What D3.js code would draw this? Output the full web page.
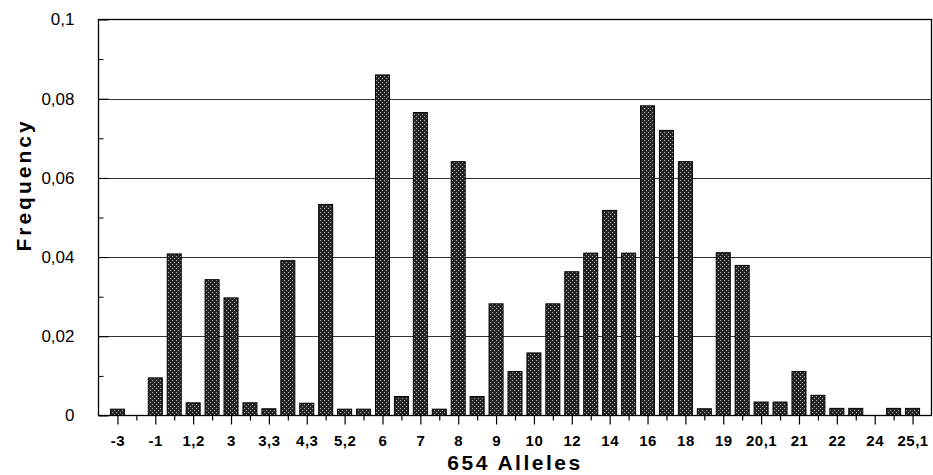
<!DOCTYPE html>
<html>
<head>
<meta charset="utf-8">
<script src="https://cdn.jsdelivr.net/npm/d3@7"></script>
<style>
  html, body { margin: 0; padding: 0; background: #fff; }
  svg { display: block; }
  text { font-family: "Liberation Sans", Arial, sans-serif; fill: #000; }
</style>
</head>
<body>
<svg id="chart" width="933" height="475"></svg>
<script>
// Allele categories (every one drawn; every second labelled)
const categories = ["-3","-2","-1","1","1,2","2","3","3,2","3,3","4","4,3","5","5,2","5,3","6","6,3","7","7,3","8","8,3","9","9,3","10","11","12","13","14","15","16","17","18","18,1","19","20","20,1","20,2","21","21,1","22","23","24","25","25,1"];
const tickLabels = ["-3","-1","1,2","3","3,3","4,3","5,2","6","7","8","9","10","12","14","16","18","19","20,1","21","22","24","25,1"];
const frequencies = [0.0016,0,0.0095,0.0408,0.0032,0.0343,0.0297,0.0032,0.0017,0.0391,0.0031,0.0533,0.0016,0.0016,0.0860,0.0048,0.0765,0.0016,0.0641,0.0048,0.0282,0.0111,0.0158,0.0282,0.0363,0.0410,0.0518,0.0410,0.0782,0.0720,0.0641,0.0017,0.0411,0.0379,0.0034,0.0034,0.0111,0.0051,0.0018,0.0018,0,0.0018,0.0018];
const yTicks = [0, 0.02, 0.04, 0.06, 0.08, 0.1];
const yTickLabels = ["0","0,02","0,04","0,06","0,08","0,1"];
const yMinorTicks = [0.01, 0.03, 0.05, 0.07, 0.09];

const svg = d3.select("#chart");
const L = 98.5, R = 931.5, T = 19.5, B = 415.5;

const defs = svg.append("defs");
const pat = defs.append("pattern").attr("id","stip").attr("patternUnits","userSpaceOnUse")
  .attr("width",4).attr("height",4);
pat.append("rect").attr("width",4).attr("height",4).attr("fill","#262626");
pat.append("rect").attr("x",0).attr("y",0).attr("width",1).attr("height",1).attr("fill","#b0b0b0");
pat.append("rect").attr("x",2).attr("y",2).attr("width",1).attr("height",1).attr("fill","#b0b0b0");

const x = d3.scalePoint().domain(categories).range([L, R]).padding(1);
const y = d3.scaleLinear().domain([0, 0.1]).range([B, T]);
const bw = x.step() * 0.74;

// gridlines
svg.append("g").selectAll("line").data(yTicks.filter(d => d > 0 && d < 0.1)).join("line")
  .attr("x1", L).attr("x2", R)
  .attr("y1", d => Math.round(y(d)) + 0.5).attr("y2", d => Math.round(y(d)) + 0.5)
  .attr("stroke", "#333").attr("stroke-width", 1.2);

// bars
svg.append("g").selectAll("rect").data(categories.map((c,i)=>({c, v: frequencies[i]})).filter(d => d.v > 0)).join("rect")
  .attr("x", d => x(d.c) - bw/2)
  .attr("y", d => y(d.v))
  .attr("width", bw)
  .attr("height", d => B - y(d.v))
  .attr("fill", "url(#stip)")
  .attr("stroke", "#000").attr("stroke-width", 1);

// frame
svg.append("rect").attr("x", L).attr("y", T).attr("width", R - L).attr("height", B - T)
  .attr("fill", "none").attr("stroke", "#000").attr("stroke-width", 1.3);

// y axis
const yAxis = d3.axisLeft(y).tickValues(yTicks).tickFormat((d,i) => yTickLabels[i]).tickSize(-10).tickPadding(24);
const gy = svg.append("g").attr("transform", `translate(${L},0)`).call(yAxis);
gy.select(".domain").remove();
gy.selectAll("line").attr("stroke", "#000");
gy.selectAll("text").attr("font-size", 17).attr("font-family", "Liberation Sans, Arial, sans-serif");
const gym = svg.append("g").attr("transform", `translate(${L},0)`)
  .call(d3.axisLeft(y).tickValues(yMinorTicks).tickFormat("").tickSize(-5));
gym.select(".domain").remove();
gym.selectAll("line").attr("stroke", "#000");

// x axis: ticks on every category, longer on labelled ones
const xAxis = d3.axisBottom(x)
  .tickValues(categories)
  .tickFormat(d => tickLabels.includes(d) ? d : "")
  .tickSize(0);
const gx = svg.append("g").attr("transform", `translate(0,${B})`).call(xAxis);
gx.select(".domain").remove();
gx.selectAll(".tick line")
  .attr("y2", d => tickLabels.includes(d) ? 9 : 5)
  .attr("stroke", "#000").attr("stroke-width", 1.2);
gx.selectAll(".tick text")
  .attr("y", 20)
  .attr("font-size", 15).attr("font-weight", "bold")
  .attr("letter-spacing", 0.5)
  .attr("font-family", "Liberation Sans, Arial, sans-serif");

// axis titles
svg.append("text").attr("x", 515).attr("y", 470).attr("text-anchor", "middle")
  .attr("font-size", 21).attr("font-weight", "bold").attr("letter-spacing", 2.5).text("654 Alleles");
svg.append("text").attr("transform", "translate(31,185) rotate(-90)").attr("text-anchor", "middle")
  .attr("font-size", 21).attr("font-weight", "bold").attr("letter-spacing", 3).text("Frequency");
</script>
</body>
</html>
